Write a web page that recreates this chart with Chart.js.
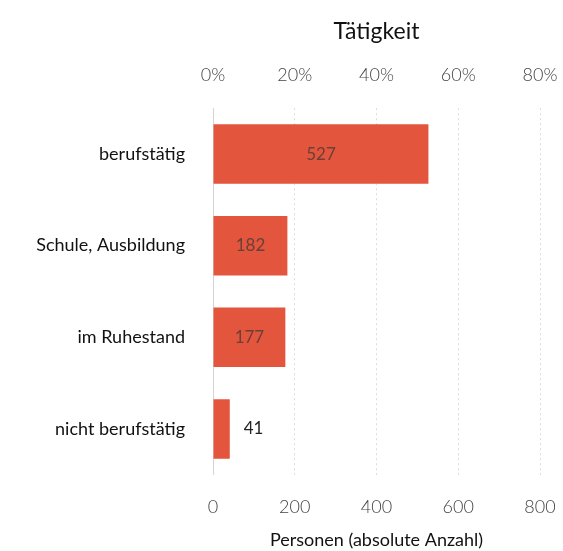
<!DOCTYPE html>
<html>
<head>
<meta charset="utf-8">
<script src="https://cdn.jsdelivr.net/npm/chart.js@4/dist/chart.umd.min.js"></script>
<style>
    html, body { margin: 0; padding: 0; background: #fff; }
    #wrap { width: 563px; height: 551px; }
</style>
</head>
<body>
<div id="wrap"><canvas id="chart"></canvas></div>
<script>
const kategorien = ["berufstätig", "Schule, Ausbildung", "im Ruhestand", "nicht berufstätig"];
const personen = [527, 182, 177, 41];
const untenTicks = [0, 200, 400, 600, 800];
const obenTicks = ["0%", "20%", "40%", "60%", "80%"];

const schrift = "Lato, 'Open Sans', sans-serif";
const balkenFarbe = "#e3553d";

// Werte in / neben den Balken
const wertePlugin = {
    id: "werte",
    afterDatasetsDraw(chart)
    {
        const ctx = chart.ctx;
        const meta = chart.getDatasetMeta(0);
        ctx.save();
        ctx.font = "17px " + schrift;
        ctx.textBaseline = "middle";
        meta.data.forEach((bar, i) => {
            const text = String(personen[i]);
            const breite = bar.x - bar.base;
            const tw = ctx.measureText(text).width;
            if(breite > tw + 10)
            {
                ctx.fillStyle = "#6a4038";
                ctx.textAlign = "center";
                ctx.fillText(text, (bar.x + bar.base) / 2, bar.y);
            }
            else
            {
                ctx.fillStyle = "#222";
                ctx.textAlign = "left";
                ctx.fillText(text, bar.x + 14, bar.y);
            }
        });
        ctx.restore();
    }
};

// rechter Rand: nur so viel Platz wie im Original
function rand(axis)
{
    axis.paddingRight = 0;
    axis.paddingLeft = 0;
}

new Chart(document.getElementById("chart"), {
    type: "bar",
    data: {
        labels: kategorien,
        datasets: [{
            data: personen,
            backgroundColor: balkenFarbe,
            borderWidth: 0,
            barPercentage: 0.65,
            categoryPercentage: 1
        }]
    },
    options: {
        indexAxis: "y",
        responsive: true,
        maintainAspectRatio: false,
        animation: false,
        layout: { padding: { left: 0, right: 23, top: 6, bottom: 0 } },
        plugins: {
            legend: { display: false },
            tooltip: { enabled: false }
        },
        scales: {
            x: {
                position: "bottom",
                min: 0,
                max: 800,
                afterBuildTicks(axis) { axis.ticks = untenTicks.map(v => ({ value: v })); },
                afterFit: rand,
                grid: { color: "#dcdcdc", drawTicks: false },
                border: { display: false, dash: [2, 3] },
                ticks: { color: "#444", font: { family: schrift, size: 18, weight: "300" }, padding: 22 },
                title: {
                    display: true,
                    text: "Personen (absolute Anzahl)",
                    color: "#111",
                    font: { family: schrift, size: 18 },
                    padding: { top: -11, bottom: 0 }
                }
            },
            x2: {
                position: "top",
                min: 0,
                max: 800,
                afterBuildTicks(axis) { axis.ticks = untenTicks.map(v => ({ value: v })); },
                afterFit: rand,
                grid: { display: false },
                border: { display: false },
                ticks: {
                    color: "#444",
                    font: { family: schrift, size: 18, weight: "300" },
                    padding: 14,
                    callback: (v, i) => obenTicks[i]
                },
                title: {
                    display: true,
                    text: "Tätigkeit",
                    color: "#111",
                    font: { family: schrift, size: 23 },
                    padding: { top: 12, bottom: 5 }
                }
            },
            y: {
                afterFit(axis) { axis.width = 213; },
                grid: { display: false },
                border: { color: "#d4d4d4", dash: [2, 3] },
                ticks: { color: "#111", font: { family: schrift, size: 18 }, padding: 20 }
            }
        }
    },
    plugins: [wertePlugin]
});
</script>
</body>
</html>
